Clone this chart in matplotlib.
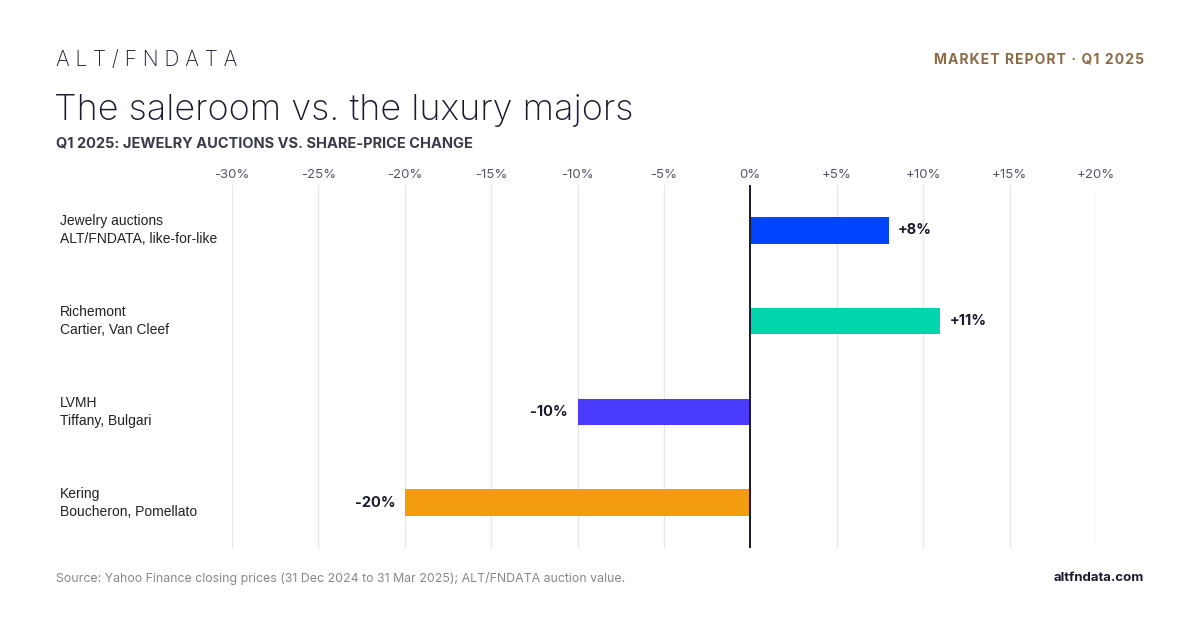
import matplotlib.pyplot as plt
from matplotlib.ticker import FixedLocator
from matplotlib.transforms import blended_transform_factory

# data
names = ["Jewelry auctions", "Richemont", "LVMH", "Kering"]
subs = ["ALT/FNDATA, like-for-like", "Cartier, Van Cleef", "Tiffany, Bulgari", "Boucheron, Pomellato"]
changes = [8, 11, -10, -20]
colors = ["#0044FF", "#00D4AA", "#4B3BFF", "#F39C0E"]
ticks = [-30, -25, -20, -15, -10, -5, 0, 5, 10, 15, 20]

plt.rcParams['font.family'] = ['Inter', 'DejaVu Sans']


def spaced(s):
    # hair spaces between letters for a bit of tracking
    return "\u200a".join(s)


fig = plt.figure(figsize=(12, 6.3), dpi=100)
fig.patch.set_facecolor("white")
ax = fig.add_axes([0.1933, 0.1302, 0.72, 0.5761])

ypos = list(range(len(names)))
ax.barh(ypos, changes, height=0.29, color=colors, zorder=3)
ax.set_ylim(len(names) - 0.5, -0.5)
ax.set_xlim(-30, 20)

ax.xaxis.set_major_locator(FixedLocator(ticks))
ax.set_xticklabels([("+%d%%" % t) if t > 0 else ("%d%%" % t) for t in ticks])
ax.xaxis.tick_top()
ax.tick_params(axis='x', length=0, pad=3, labelsize=9.5, labelcolor="#555566")
ax.set_yticks([])
ax.grid(axis='x', color="#e6e6ee", linewidth=1, zorder=0)
for s in ax.spines.values():
    s.set_visible(False)
ax.axvline(0, color="#1a1a2e", linewidth=1.4, zorder=4)

# category labels sit in the left margin: x in figure fraction, y in data
lab_tr = blended_transform_factory(fig.transFigure, ax.transData)

for i, v in enumerate(changes):
    lab = ("+%d%%" % v) if v > 0 else ("%d%%" % v)
    off = 0.55 if v > 0 else -0.55
    ax.text(v + off, i, lab, ha='left' if v > 0 else 'right', va='center',
            fontsize=10.5, fontweight='bold', color="#1a1a2e")
    ax.text(0.05, i - 0.1, names[i], transform=lab_tr, ha='left', va='center',
            fontsize=10, color="#222222", family=['Liberation Sans'])
    ax.text(0.05, i + 0.1, subs[i], transform=lab_tr, ha='left', va='center',
            fontsize=10, color="#222222", family=['Liberation Sans'])

# header
fig.text(0.047, 0.905, "A L T / F N D A T A", fontsize=15, fontweight='light',
         color="#1a1a2e", va='center')
fig.text(0.953, 0.906, spaced("MARKET REPORT · Q1 2025"), fontsize=10, fontweight='bold',
         color="#8B6A45", ha='right', va='center')
fig.text(0.045, 0.825, "The saleroom vs. the luxury majors", fontsize=26, fontweight='light',
         color="#1a1a2e", va='center')
fig.text(0.047, 0.772, "Q1 2025: JEWELRY AUCTIONS VS. SHARE-PRICE CHANGE", fontsize=10.5,
         fontweight='bold', color="#3a3a48", va='center')

# footer
fig.text(0.047, 0.082, "Source: Yahoo Finance closing prices (31 Dec 2024 to 31 Mar 2025); ALT/FNDATA auction value.",
         fontsize=8.9, color="#888888", va='center')
fig.text(0.953, 0.082, "altfndata.com", fontsize=9.5, fontweight='bold', color="#1a1a2e",
         ha='right', va='center')

fig.savefig("out.png", dpi=100, facecolor="white")
